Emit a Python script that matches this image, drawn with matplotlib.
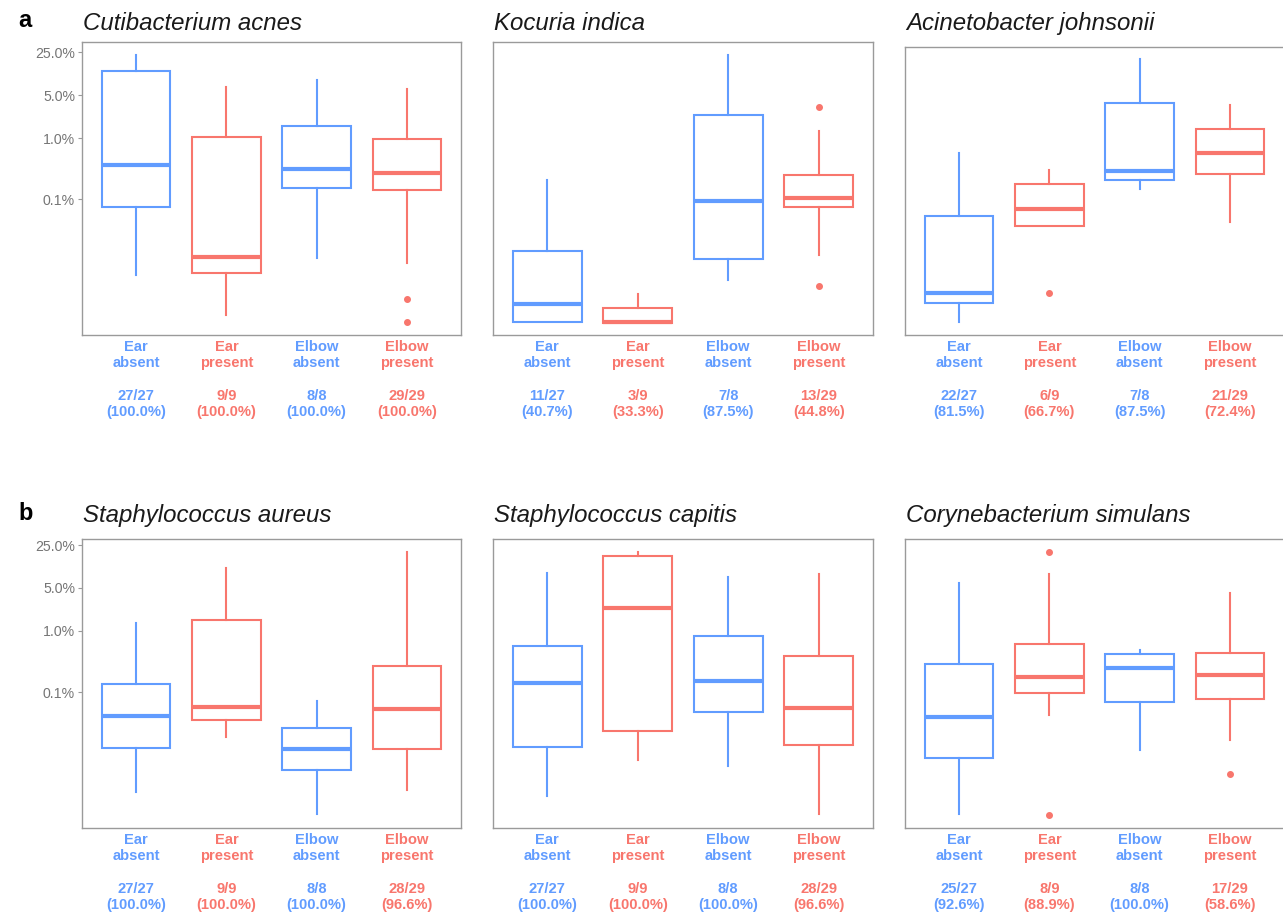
import matplotlib
matplotlib.use("Agg")
import matplotlib.pyplot as plt

BLUE = "#619CFF"
RED = "#F8766D"

GROUPS = ["Ear\nabsent", "Ear\npresent", "Elbow\nabsent", "Elbow\npresent"]
GROUP_COLORS = [BLUE, RED, BLUE, RED]

TITLES = [
    "Cutibacterium acnes",
    "Kocuria indica",
    "Acinetobacter johnsonii",
    "Staphylococcus aureus",
    "Staphylococcus capitis",
    "Corynebacterium simulans",
]

# detection counts per panel: (detected, total)
COUNTS = [
    [(27, 27), (9, 9), (8, 8), (29, 29)],
    [(11, 27), (3, 9), (7, 8), (13, 29)],
    [(22, 27), (6, 9), (7, 8), (21, 29)],
    [(27, 27), (9, 9), (8, 8), (28, 29)],
    [(27, 27), (9, 9), (8, 8), (28, 29)],
    [(25, 27), (8, 9), (8, 8), (17, 29)],
]

# box stats in % relative abundance: whislo, q1, med, q3, whishi
STATS = [
    [
        [0.0059, 0.0764, 0.36, 12.3, 22.4],
        [0.00132, 0.00645, 0.0115, 1.04, 6.67],
        [0.0111, 0.152, 0.31, 1.58, 8.77],
        [0.0092, 0.143, 0.267, 0.953, 6.19],
    ],
    [
        [0.00102, 0.00102, 0.0020, 0.01455, 0.2075],
        [0.000993, 0.000993, 0.00102, 0.00174, 0.0029],
        [0.0049, 0.01066, 0.0935, 2.37, 22.4],
        [0.01252, 0.0747, 0.1058, 0.25, 1.30],
    ],
    [
        [0.00103, 0.00205, 0.00298, 0.0545, 0.564],
        [0.0372, 0.0375, 0.0701, 0.177, 0.302],
        [0.1465, 0.2075, 0.29, 3.75, 19.0],
        [0.0436, 0.26, 0.564, 1.42, 3.40],
    ],
    [
        [0.00244, 0.0124, 0.042, 0.136, 1.364],
        [0.0191, 0.0357, 0.0588, 1.51, 10.7],
        [0.00105, 0.0055, 0.0121, 0.0265, 0.0736],
        [0.0026, 0.0121, 0.054, 0.273, 19.3],
    ],
    [
        [0.00207, 0.01285, 0.141, 0.570, 8.67],
        [0.00798, 0.0237, 2.39, 16.8, 19.0],
        [0.00638, 0.0487, 0.1556, 0.829, 7.46],
        [0.00106, 0.014, 0.0566, 0.397, 8.45],
    ],
    [
        [0.00106, 0.0085, 0.0404, 0.290, 5.97],
        [0.0431, 0.097, 0.181, 0.615, 8.36],
        [0.0116, 0.0701, 0.253, 0.418, 0.491],
        [0.0169, 0.0784, 0.1905, 0.434, 4.20],
    ],
]

OUTLIERS = [
    [[], [], [], [0.00238, 0.00102]],
    [[], [], [], [3.19, 0.00397]],
    [[], [0.00298], [], []],
    [[], [], [], []],
    [[], [], [], []],
    [[], [19.5, 0.00102], [], [0.00473]],
]

Y_TICKS = [0.1, 1.0, 5.0, 25.0]
Y_TICK_LABELS = ["0.1%", "1.0%", "5.0%", "25.0%"]

W, H = 1283, 913
fig = plt.figure(figsize=(W / 100, H / 100), dpi=100)
plt.rcParams["font.family"] = ["Liberation Sans", "DejaVu Sans"]

# panel boxes in pixels: left, top, right, bottom, y-top value
panels = [
    (82, 42, 461, 335, 36.4),
    (493, 42, 873, 335, 36.4),
    (905, 47, 1284, 335, 30.2),
    (82, 539, 461, 828, 31.3),
    (493, 539, 873, 828, 31.3),
    (905, 539, 1284, 828, 31.3),
]
title_y = [30, 30, 30, 522, 522, 522]

for i, (l, t, r, b, ytop) in enumerate(panels):
    ax = fig.add_axes([l / W, 1 - b / H, (r - l) / W, (b - t) / H])
    bstats = []
    for j, s in enumerate(STATS[i]):
        bstats.append(
            {
                "whislo": s[0],
                "q1": s[1],
                "med": s[2],
                "q3": s[3],
                "whishi": s[4],
                "fliers": OUTLIERS[i][j],
            }
        )
    parts = ax.bxp(
        bstats,
        positions=[1, 2, 3, 4],
        widths=0.76,
        showcaps=False,
        patch_artist=True,
        manage_ticks=False,
    )
    for j in range(4):
        c = GROUP_COLORS[j]
        parts["boxes"][j].set(facecolor="white", edgecolor=c, linewidth=1.5)
        parts["medians"][j].set(color=c, linewidth=3.0, solid_capstyle="butt")
        parts["whiskers"][2 * j].set(color=c, linewidth=1.5)
        parts["whiskers"][2 * j + 1].set(color=c, linewidth=1.5)
        parts["fliers"][j].set(
            marker="o", markersize=4, markerfacecolor=c, markeredgecolor=c
        )

    ax.set_yscale("log")
    ax.set_ylim(0.000626, ytop)
    ax.set_xlim(0.4, 4.6)
    ax.set_xticks([])
    ax.minorticks_off()
    for sp in ax.spines.values():
        sp.set_color("#9a9a9a")
        sp.set_linewidth(1.0)

    if i in (0, 3):
        ax.set_yticks(Y_TICKS)
        ax.set_yticklabels(Y_TICK_LABELS)
        ax.tick_params(
            axis="y", length=3, width=0.8, color="#9a9a9a",
            labelcolor="#757575", labelsize=10.2, pad=2,
        )
    else:
        ax.set_yticks([])

    # category + detection labels under the panel
    for j in range(4):
        n, tot = COUNTS[i][j]
        txt = f"{GROUPS[j]}\n\n{n}/{tot}\n({100 * n / tot:.1f}%)"
        ax.text(
            j + 1, -0.018, txt, transform=ax.get_xaxis_transform(),
            ha="center", va="top", color=GROUP_COLORS[j],
            fontsize=10.6, fontweight="bold", linespacing=1.2,
        )

    fig.text(
        (l + 1) / W, 1 - title_y[i] / H, TITLES[i],
        ha="left", va="baseline", fontsize=17.3, style="italic", color="#1a1a1a",
    )

fig.text(18 / W, 1 - 27 / H, "a", fontsize=17, fontweight="bold", va="baseline")
fig.text(18 / W, 1 - 520 / H, "b", fontsize=17, fontweight="bold", va="baseline")

fig.savefig("out.png", dpi=100, facecolor="white")
